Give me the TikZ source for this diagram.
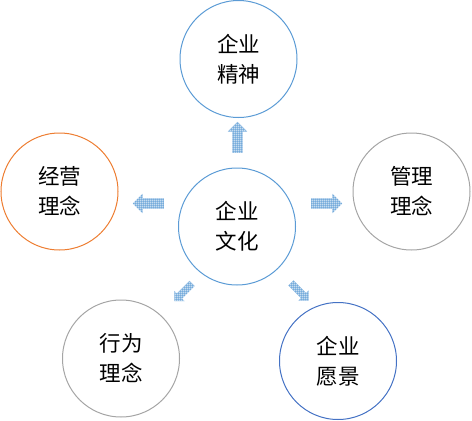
\documentclass[tikz,border=0pt]{standalone}
\usepackage{fontspec}
\newfontfamily\cjk{Noto Sans CJK SC}
\usetikzlibrary{shapes.arrows,patterns.meta}
\definecolor{lblue}{HTML}{5B9BD5}
\definecolor{dblue}{HTML}{4472C4}
\definecolor{lorange}{HTML}{ED7D31}
\definecolor{lgray}{HTML}{A5A5A5}
\tikzdeclarepattern{
  name=dotgrid,
  type=uncolored,
  bottom left={(0pt,0pt)},
  top right={(2.2pt,2.2pt)},
  tile size={(2.2pt,2.2pt)},
  code={
    \draw[line width=0.85pt] (0pt,1.1pt) -- (2.2pt,1.1pt) (1.1pt,0pt) -- (1.1pt,2.2pt);
  }
}
\begin{document}
\begin{tikzpicture}[x=1pt,y=-1pt,
    idea/.style={circle,draw=#1,line width=1pt,minimum size=117pt,inner sep=0pt,
      align=center,font=\cjk\fontsize{21.5}{30}\selectfont},
    push/.style={single arrow,fill=lblue,inner xsep=0pt,inner ysep=5pt,minimum height=31pt,
      single arrow head extend=4.5pt,
      postaction={pattern=dotgrid,pattern color=white}},
    slant/.style={push,inner ysep=3.5pt,minimum height=25pt,single arrow head extend=3.5pt}]
    \useasboundingbox (0,0) rectangle (472,421);
    %% circles
    \node[idea=lblue] (culture) at (237,226.5) {企业\\文化};
    \node[idea=lblue] (spirit) at (238.5,59) {企业\\精神};
    \node[idea=lorange] (business) at (59.5,191.5) {经营\\理念};
    \node[idea=lgray] (manage) at (411.5,191.5) {管理\\理念};
    \node[idea=lgray] (conduct) at (121,358.5) {行为\\理念};
    \node[idea=dblue] (vision) at (338,361) {企业\\愿景};
    %% arrows
    \node[push,rotate=90] (toup) at (237.5,140) {};
    \node[push,rotate=180] (toleft) at (151,203.5) {};
    \node[push] (toright) at (324,203.5) {};
    \node[slant,rotate=225] (todl) at (184.5,291) {};
    \node[slant,rotate=-45] (todr) at (298.5,290.5) {};
\end{tikzpicture}
\end{document}
